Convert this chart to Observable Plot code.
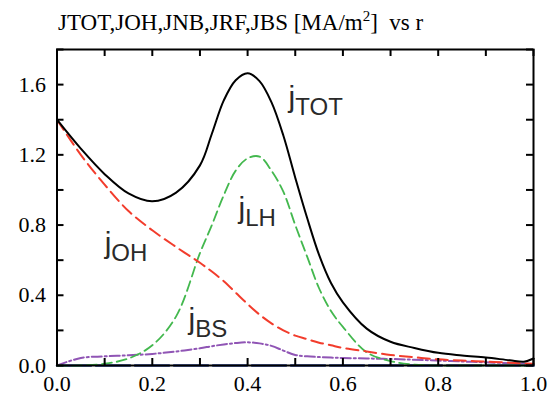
<!DOCTYPE html>
<html><head><meta charset="utf-8">
<script src="https://cdn.jsdelivr.net/npm/d3@7"></script>
<script src="https://cdn.jsdelivr.net/npm/@observablehq/plot@0.6"></script>
<style>
body{margin:0;background:#fff;}
#title{position:absolute;left:58px;top:11px;font-family:"Liberation Serif";font-size:23px;color:#000;white-space:pre;line-height:24px;}
#title sup{font-size:15px;vertical-align:9px;line-height:0;}
#chart{position:absolute;left:0;top:40px;}
</style></head><body>
<div id="title">JTOT,JOH,JNB,JRF,JBS [MA/m<sup>2</sup>]  vs r</div>
<div id="chart"></div>
<script>
const r    = [0, 0.05, 0.1, 0.15, 0.2, 0.25, 0.3, 0.325, 0.35, 0.375, 0.4, 0.425, 0.45, 0.475, 0.5, 0.525, 0.55, 0.575, 0.6, 0.65, 0.7, 0.75, 0.8, 0.85, 0.9, 0.95, 0.98, 1.0];
const jtot = [1.40, 1.235, 1.09, 0.98, 0.935, 0.985, 1.14, 1.32, 1.51, 1.625, 1.665, 1.62, 1.50, 1.31, 1.07, 0.84, 0.63, 0.47, 0.36, 0.21, 0.135, 0.10, 0.072, 0.057, 0.045, 0.03, 0.022, 0.04];
const joh  = [1.40, 1.20, 1.03, 0.88, 0.77, 0.675, 0.585, 0.535, 0.48, 0.415, 0.35, 0.29, 0.24, 0.20, 0.17, 0.15, 0.13, 0.115, 0.10, 0.08, 0.06, 0.047, 0.035, 0.028, 0.022, 0.016, 0.012, 0.01];
const jlh  = [0, 0, 0.01, 0.04, 0.115, 0.28, 0.64, 0.80, 0.97, 1.11, 1.18, 1.19, 1.11, 0.99, 0.80, 0.62, 0.44, 0.31, 0.22, 0.075, 0.025, 0.005, 0, 0, 0, 0, 0, 0];
const jbs  = [0, 0.043, 0.052, 0.058, 0.066, 0.08, 0.098, 0.11, 0.12, 0.128, 0.132, 0.126, 0.112, 0.085, 0.06, 0.052, 0.048, 0.045, 0.043, 0.04, 0.037, 0.033, 0.028, 0.023, 0.018, 0.013, 0.01, 0.008];
const jnb  = [0, 0, 0, 0, 0, 0, 0, 0, 0, 0, 0, 0, 0, 0, 0, 0, 0, 0, 0, 0, 0, 0, 0, 0, 0, 0, 0, 0];

const xTickLabels = [0, 0.2, 0.4, 0.6, 0.8, 1.0];
const xTicks = [0, 0.1, 0.2, 0.3, 0.4, 0.5, 0.6, 0.7, 0.8, 0.9, 1.0];
const yTickLabels = [0, 0.4, 0.8, 1.2, 1.6];
const yTicks = [0, 0.2, 0.4, 0.6, 0.8, 1.0, 1.2, 1.4, 1.6, 1.8];

const labelR   = [0.486, 0.381, 0.100, 0.276];
const labelV   = [1.47, 0.84, 0.64, 0.206];
const labelTxt = ["j_TOT", "j_LH", "j_OH", "j_BS"];

const W = 549, H = 361, mT = 9, mB = 36, mL = 56.5, mR = 16;
const innerW = W - mL - mR, innerH = H - mT - mB;

const mk = (vals) => r.map((x, i) => ({r: x, v: vals[i]}));
const labels = labelR.map((x, i) => ({r: x, v: labelV[i], t: labelTxt[i]}));

const chart = Plot.plot({
  width: W, height: H,
  marginTop: mT, marginBottom: mB, marginLeft: mL, marginRight: mR,
  style: {fontFamily: "Liberation Serif", fontSize: "22px", color: "#000", background: "#fff"},
  x: {domain: [0, 1], ticks: xTickLabels, tickSize: 0, tickPadding: 10, tickFormat: d3.format(".1f"), label: null},
  y: {domain: [0, 1.8], ticks: yTickLabels, tickSize: 0, tickPadding: 11, tickFormat: d3.format(".1f"), label: null},
  marks: [
    Plot.line(mk(jnb), {x: "r", y: "v", stroke: "#1f3a93", strokeWidth: 2.5, strokeDasharray: "34,5"}),
    Plot.line(mk(jbs), {x: "r", y: "v", stroke: "#9055b5", strokeWidth: 2, strokeDasharray: "10,3,2,3", curve: "catmull-rom"}),
    Plot.line(mk(jlh), {x: "r", y: "v", stroke: "#43b84e", strokeWidth: 1.8, strokeDasharray: "10,5", curve: "catmull-rom"}),
    Plot.line(mk(joh), {x: "r", y: "v", stroke: "#f23c2c", strokeWidth: 2, strokeDasharray: "12,6", curve: "catmull-rom"}),
    Plot.line(mk(jtot), {x: "r", y: "v", stroke: "#000", strokeWidth: 2, curve: "catmull-rom"}),
    Plot.tickX(xTicks, {x: d => d, stroke: "#000", strokeWidth: 2, insetTop: innerH - 7}),
    Plot.tickX(xTicks, {x: d => d, stroke: "#000", strokeWidth: 2, insetBottom: innerH - 7}),
    Plot.tickY(yTicks, {y: d => d, stroke: "#000", strokeWidth: 2, insetRight: innerW - 7}),
    Plot.tickY(yTicks, {y: d => d, stroke: "#000", strokeWidth: 2, insetLeft: innerW - 7}),
    Plot.frame({stroke: "#000", strokeWidth: 2}),
    Plot.text(labels, {x: "r", y: "v", text: "t", textAnchor: "start", lineAnchor: "bottom", fontFamily: "Liberation Sans", fontSize: 30, fill: "#2a2a2a"})
  ]
});

d3.select(chart).selectAll("text").each(function() {
  const t = this.textContent;
  if (t.includes("_")) {
    const [a, b] = t.split("_");
    const sel = d3.select(this);
    sel.text(null);
    sel.append("tspan").text(a);
    sel.append("tspan").attr("dy", 8).attr("font-size", 24).text(b);
  }
});

document.getElementById("chart").appendChild(chart);
</script>
</body></html>
